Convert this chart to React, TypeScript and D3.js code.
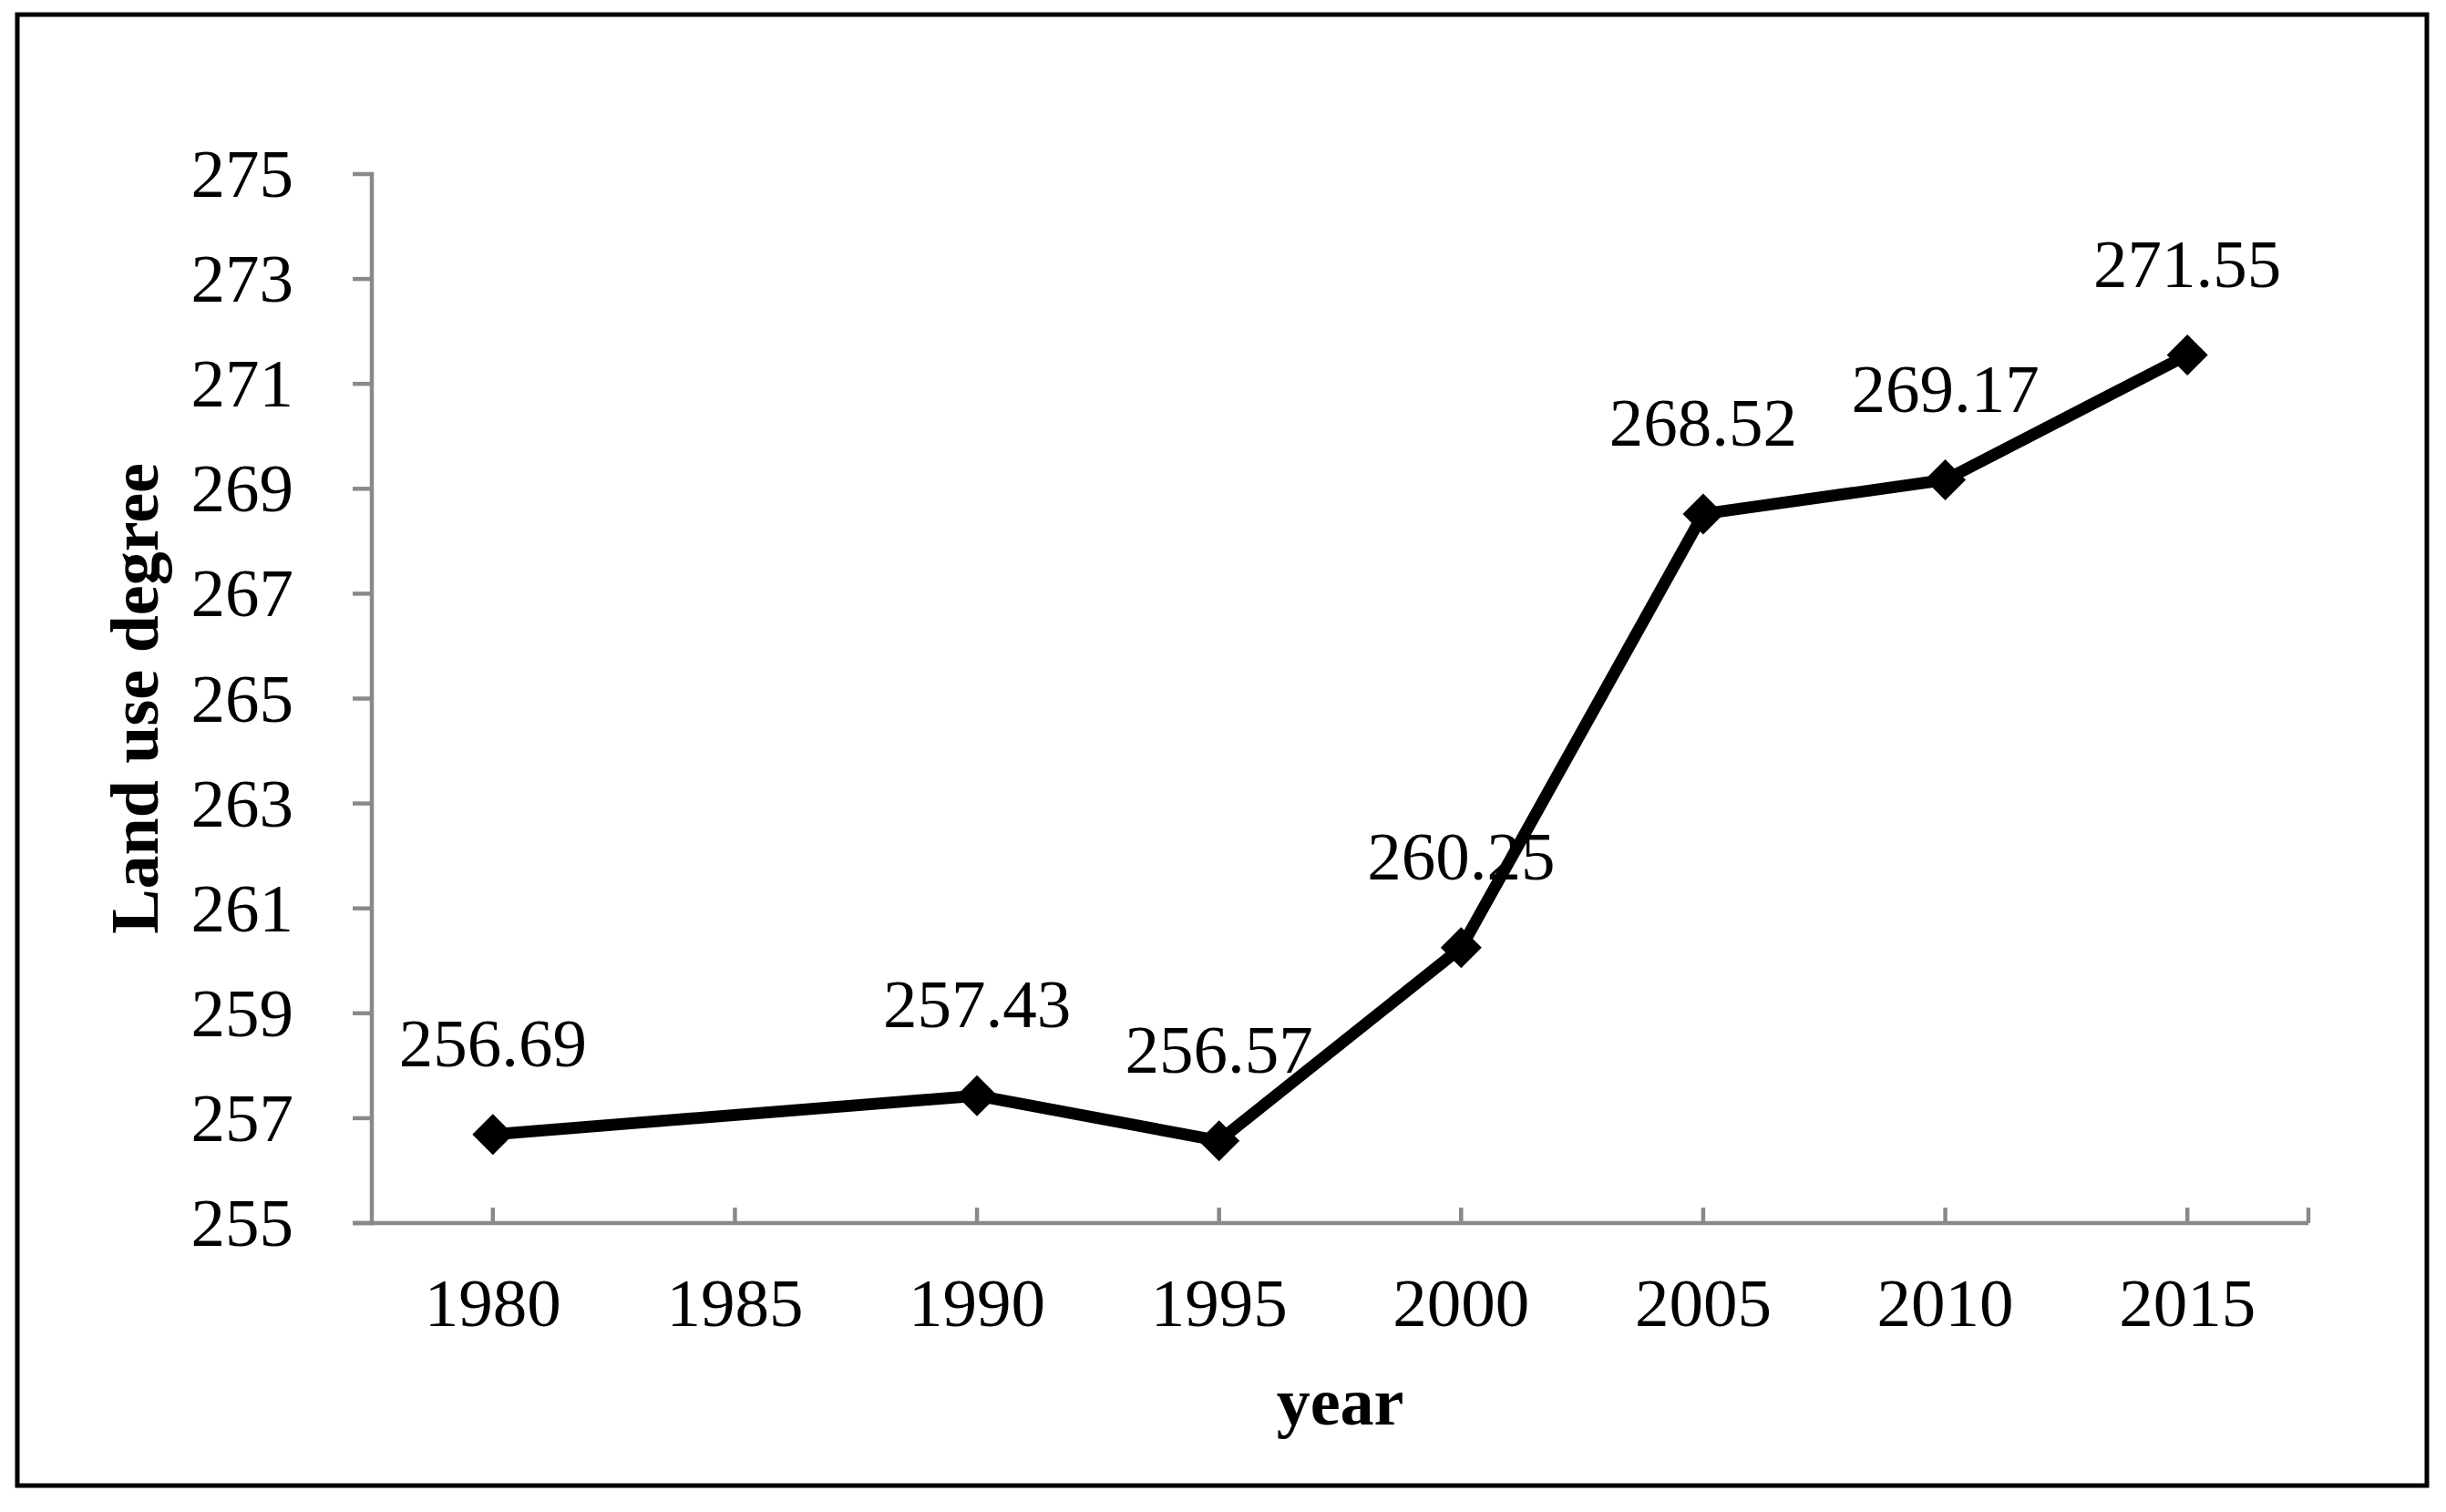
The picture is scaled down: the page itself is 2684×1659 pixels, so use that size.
import React, { useEffect, useRef } from "react";
import * as d3 from "d3";

const years: string[] = ["1980", "1985", "1990", "1995", "2000", "2005", "2010", "2015"];
const landUseDegree: (number | null)[] = [256.69, null, 257.43, 256.57, 260.25, 268.52, 269.17, 271.55];
const yTicks: number[] = [255, 257, 259, 261, 263, 265, 267, 269, 271, 273, 275];

const W = 2684;
const H = 1659;
const AXIS_GRAY = "#898989";
const FONT = "'Liberation Serif', 'Times New Roman', Times, serif";

export default function App() {
  const ref = useRef<SVGSVGElement | null>(null);

  useEffect(() => {
    const svg = d3.select(ref.current);
    svg.selectAll("*").remove();

    const left = 408, right = 2533, top = 191, bottom = 1342;

    // outer frame
    svg.append("rect")
      .attr("x", 19).attr("y", 16)
      .attr("width", 2663 - 19).attr("height", 1630 - 16)
      .attr("fill", "white").attr("stroke", "black").attr("stroke-width", 5);

    const x = d3.scaleBand<string>().domain(years).range([left, right]).paddingInner(0).paddingOuter(0);
    const cx = (c: string) => (x(c) as number) + x.bandwidth() / 2;
    const y = d3.scaleLinear().domain([255, 275]).range([bottom, top]);

    const g = svg.append("g");

    // y axis line
    g.append("line")
      .attr("x1", left).attr("x2", left).attr("y1", y(275)).attr("y2", y(255))
      .attr("stroke", AXIS_GRAY).attr("stroke-width", 4.5).attr("stroke-linecap", "square");
    // y ticks (outward)
    g.selectAll(".ytick").data(yTicks).enter().append("line")
      .attr("x1", left - 21).attr("x2", left)
      .attr("y1", (d) => y(d)).attr("y2", (d) => y(d))
      .attr("stroke", AXIS_GRAY).attr("stroke-width", 4.5);
    // y tick labels
    g.selectAll(".ylab").data(yTicks).enter().append("text")
      .attr("x", 322).attr("y", (d) => y(d) + 25)
      .attr("text-anchor", "end")
      .attr("font-family", FONT).attr("font-size", 75).attr("fill", "black")
      .text((d) => String(d));

    // x axis line
    g.append("line")
      .attr("x1", left - 21).attr("x2", right).attr("y1", bottom).attr("y2", bottom)
      .attr("stroke", AXIS_GRAY).attr("stroke-width", 4.5);
    // x ticks (inward) at category centres and right end
    const xTickPos = years.map(cx).concat([right]);
    g.selectAll(".xtick").data(xTickPos).enter().append("line")
      .attr("x1", (d) => d).attr("x2", (d) => d)
      .attr("y1", bottom - 17).attr("y2", bottom)
      .attr("stroke", AXIS_GRAY).attr("stroke-width", 4.5);
    // x tick labels
    g.selectAll(".xlab").data(years).enter().append("text")
      .attr("x", (d) => cx(d)).attr("y", 1455)
      .attr("text-anchor", "middle")
      .attr("font-family", FONT).attr("font-size", 75).attr("fill", "black")
      .text((d) => d);

    // axis titles
    g.append("text")
      .attr("x", (left + right) / 2).attr("y", 1563)
      .attr("text-anchor", "middle")
      .attr("font-family", FONT).attr("font-size", 74).attr("font-weight", "bold")
      .text("year");
    g.append("text")
      .attr("transform", `translate(173, ${(top + bottom) / 2}) rotate(-90)`)
      .attr("text-anchor", "middle")
      .attr("font-family", FONT).attr("font-size", 74).attr("font-weight", "bold")
      .text("Land use degree");

    // data
    const pts = years
      .map((c, i) => ({ c, v: landUseDegree[i] }))
      .filter((p) => p.v !== null) as { c: string; v: number }[];

    const line = d3.line<{ c: string; v: number }>()
      .x((d) => cx(d.c))
      .y((d) => y(d.v));

    g.append("path")
      .attr("d", line(pts) as string)
      .attr("fill", "none").attr("stroke", "black")
      .attr("stroke-width", 13).attr("stroke-linejoin", "round");

    const sym = d3.symbol().type(d3.symbolSquare).size(1012);
    g.selectAll(".mk").data(pts).enter().append("path")
      .attr("d", sym() as string)
      .attr("transform", (d) => `translate(${cx(d.c)}, ${y(d.v)}) rotate(45)`)
      .attr("fill", "black");

    g.selectAll(".dl").data(pts).enter().append("text")
      .attr("x", (d) => cx(d.c)).attr("y", (d) => y(d.v) - 75)
      .attr("text-anchor", "middle")
      .attr("font-family", FONT).attr("font-size", 75).attr("fill", "black")
      .text((d) => d.v.toFixed(2));
  }, []);

  return (
    <svg
      ref={ref}
      width={W}
      height={H}
      viewBox={`0 0 ${W} ${H}`}
      style={{ position: "absolute", left: 0, top: 0, background: "white" }}
    />
  );
}
